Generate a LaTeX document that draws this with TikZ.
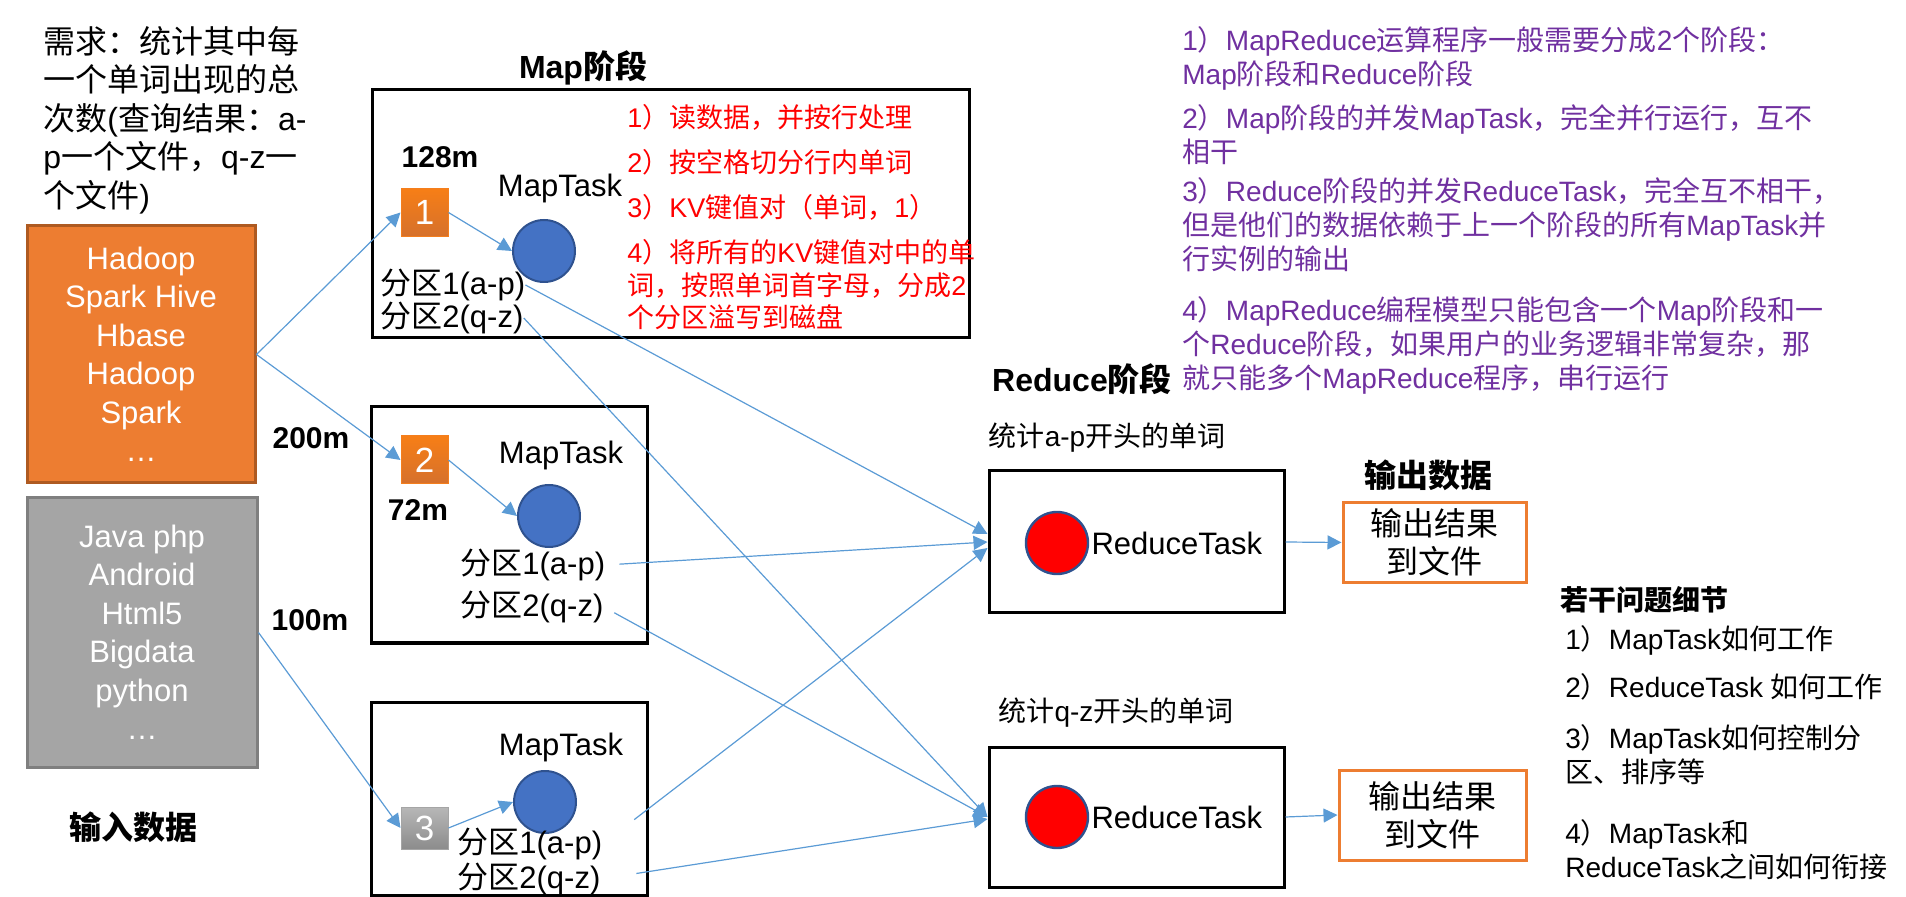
\documentclass[tikz,border=0pt]{standalone}
\usepackage{fontspec}
\setmainfont{Liberation Sans}
\newfontfamily\cjk{Noto Sans CJK SC}
\usetikzlibrary{arrows.meta,positioning}

% Chinese characters are set in the CJK family, the rest in Liberation Sans
\XeTeXinterchartokenstate=1
\newXeTeXintercharclass\hanclass
\makeatletter
\def\setcjkrange#1#2{\count@=#1\relax
  \loop\XeTeXcharclass\count@=\hanclass
  \ifnum\count@<#2\advance\count@\@ne\repeat}
\setcjkrange{"3000}{"303F}
\setcjkrange{"4E00}{"9FFF}
\setcjkrange{"FF00}{"FFEF}
\makeatother
\XeTeXinterchartoks 0 \hanclass = {\cjk}
\XeTeXinterchartoks 4095 \hanclass = {\cjk}
\XeTeXinterchartoks \hanclass 0 = {\rmfamily}
\XeTeXinterchartoks 4095 0 = {\rmfamily}

\definecolor{flowblue}{HTML}{5B9BD5}
\definecolor{inorange}{HTML}{ED7D31}
\definecolor{inorangedark}{HTML}{AE5A21}
\definecolor{ingray}{HTML}{A5A5A5}
\definecolor{ingraydark}{HTML}{7F7F7F}
\definecolor{taskblue}{HTML}{4472C4}
\definecolor{taskedge}{HTML}{2F528F}
\definecolor{notepurple}{HTML}{7030A0}

\begin{document}
\begin{tikzpicture}[x=0.5pt,y=-0.5pt,->,>={Triangle[length=7pt,width=7pt]}]
  \tikzstyle{every edge}=[draw=flowblue,line width=0.6pt]
  \tikzstyle{frame}=[rectangle,draw=black,line width=1.5pt]
  \tikzstyle{inbox}=[rectangle,line width=1.5pt,text=white,align=center,
                     font=\fontsize{15.5}{19.25}\selectfont]
  \tikzstyle{splitbox}=[rectangle,text=white,minimum width=23.5pt,line width=0.5pt,
                        font=\fontsize{17.5}{20}\selectfont]
  \tikzstyle{maptask}=[circle,fill=taskblue,draw=taskedge,line width=1pt,
                       minimum size=31pt,inner sep=0pt]
  \tikzstyle{redtask}=[circle,fill=red,draw=taskedge,line width=1.2pt,
                       minimum size=31pt,inner sep=0pt]
  \tikzstyle{outbox}=[rectangle,draw=inorange,line width=1.5pt,align=center,
                      font=\fontsize{16}{19}\selectfont]
  \tikzstyle{txt}=[inner sep=0pt,font=\fontsize{15.5}{19.25}\selectfont]
  \tikzstyle{title}=[inner sep=0pt,font=\fontsize{16}{19}\selectfont\bfseries]
  \tikzstyle{size}=[inner sep=0pt,font=\fontsize{15}{18}\selectfont\bfseries]
  \tikzstyle{small}=[inner sep=0pt,align=left,font=\fontsize{14}{17}\selectfont]
  \tikzstyle{step note}=[inner sep=0pt,align=left,text=red,
                         font=\fontsize{13.5}{16.25}\selectfont]

  \useasboundingbox (0,0) rectangle (1906,897);

  % input data
  \node[txt,align=left,anchor=west,font=\fontsize{16}{19.25}\selectfont] (need) at (43,120)
    {需求：统计其中每\\一个单词出现的总\\次数(查询结果：a-\\p一个文件，q-z一\\个文件)};
  \node[inbox,fill=inorange,draw=inorangedark,minimum width=114pt,minimum height=128.5pt]
    (hadoop) at (141,354.5) {Hadoop\\Spark Hive\\Hbase\\Hadoop\\Spark\\…};
  \node[inbox,fill=ingray,draw=ingraydark,minimum width=115pt,minimum height=134.5pt]
    (java) at (142,632.5) {Java php\\Android\\Html5\\Bigdata\\python\\…};
  \node[title] (input) at (133,827) {输入数据};

  % map stage
  \node[title] (maptitle) at (583,68) {Map阶段};
  \node[frame,minimum width=298.5pt,minimum height=124pt] (mapbox1) at (670.5,214) {};
  \node[frame,minimum width=138pt,minimum height=118pt] (mapbox2) at (509,525) {};
  \node[frame,minimum width=138pt,minimum height=96.5pt] (mapbox3) at (509,798.5) {};

  \node[size] (s128) at (440,157) {128m};
  \node[size] (s200) at (311,438) {200m};
  \node[size] (s72) at (418,510) {72m};
  \node[size] (s100) at (310,620) {100m};

  \node[splitbox,minimum height=24pt,top color=orange!55!inorange,bottom color=inorange!90!black,
        draw=orange!40!inorange] (sq1) at (424.5,212.5) {1};
  \node[splitbox,minimum height=24pt,top color=orange!55!inorange,bottom color=inorange!90!black,
        draw=orange!40!inorange] (sq2) at (424.5,460) {2};
  \node[splitbox,minimum height=21pt,top color=ingray!80!white,bottom color=ingray!85!black,
        draw=ingray] (sq3) at (424.5,828) {3};

  \node[maptask] (m1) at (544,251) {};
  \node[maptask] (m2) at (549,516) {};
  \node[maptask] (m3) at (545,802) {};
  \node[txt] (mt1) at (560,188) {MapTask};
  \node[txt] (mt2) at (561,455) {MapTask};
  \node[txt] (mt3) at (561,747) {MapTask};

  \node[txt,anchor=west] (p11) at (380,285) {分区1(a-p)};
  \node[txt,anchor=west] (p12) at (380,318) {分区2(q-z)};
  \node[txt,anchor=west] (p21) at (460,565) {分区1(a-p)};
  \node[txt,anchor=west] (p22) at (460,607) {分区2(q-z)};
  \node[txt,anchor=west] (p31) at (457,844) {分区1(a-p)};
  \node[txt,anchor=west] (p32) at (457,879) {分区2(q-z)};

  \node[step note,anchor=west] (read) at (627,117) {1）读数据，并按行处理};
  \node[step note,anchor=west] (cut) at (627,162) {2）按空格切分行内单词};
  \node[step note,anchor=west] (kv) at (627,207) {3）KV键值对（单词，1）};
  \node[step note,anchor=west] (spill) at (627,285)
    {4）将所有的KV键值对中的单\\词，按照单词首字母，分成2\\个分区溢写到磁盘};

  % reduce stage
  \node[title] (redtitle) at (1082,379) {Reduce阶段};
  \node[small] (ap) at (1107,438) {统计a-p开头的单词};
  \node[small] (qz) at (1116,713) {统计q-z开头的单词};
  \node[frame,minimum width=147.5pt,minimum height=71pt] (r1) at (1136.5,542) {};
  \node[frame,minimum width=147.5pt,minimum height=70pt] (r2) at (1136.5,817) {};
  \node[redtask] (rc1) at (1057,543) {};
  \node[redtask] (rc2) at (1057,817) {};
  \node[txt,right=1pt of rc1] (rt1) {ReduceTask};
  \node[txt,right=1pt of rc2] (rt2) {ReduceTask};

  % output data
  \node[title] (output) at (1428,475) {输出数据};
  \node[outbox,minimum width=91.5pt,minimum height=39.5pt] (o1) at (1434.5,542.5) {输出结果\\到文件};
  \node[outbox,minimum width=93.5pt,minimum height=45pt] (o2) at (1432.5,815) {输出结果\\到文件};

  % notes
  \node[small,text=notepurple,anchor=west] (n1) at (1182,58.5)
    {1）MapReduce运算程序一般需要分成2个阶段：\\Map阶段和Reduce阶段};
  \node[small,text=notepurple,anchor=west] (n2) at (1182,134.5)
    {2）Map阶段的并发MapTask，完全并行运行，互不\\相干};
  \node[small,text=notepurple,anchor=west] (n3) at (1182,225)
    {3）Reduce阶段的并发ReduceTask，完全互不相干，\\但是他们的数据依赖于上一个阶段的所有MapTask并\\行实例的输出};
  \node[small,text=notepurple,anchor=west] (n4) at (1182,345)
    {4）MapReduce编程模型只能包含一个Map阶段和一\\个Reduce阶段，如果用户的业务逻辑非常复杂，那\\就只能多个MapReduce程序，串行运行};

  \node[small,anchor=west,font=\fontsize{14}{17}\selectfont\bfseries] (q0) at (1560,600) {若干问题细节};
  \node[small,anchor=west] (q1) at (1565,640) {1）MapTask如何工作};
  \node[small,anchor=west] (q2) at (1565,687) {2）ReduceTask 如何工作};
  \node[small,anchor=west] (q3) at (1565,755) {3）MapTask如何控制分\\区、排序等};
  \node[small,anchor=west] (q4) at (1565,850) {4）MapTask和\\ReduceTask之间如何衔接};

  \path (hadoop.east) edge (sq1.west)
        (hadoop.east) edge (sq2.west)
        (java.east) edge (sq3.west)
        (sq1.east) edge (m1.west)
        (sq2.east) edge (m2.west)
        (sq3.east) edge (m3.west)
        (p11.east) edge ([yshift=4pt]r1.west)
        (p12.east) edge (r2.west)
        (p21.east) edge [shorten <=7pt] (r1.west)
        (p22.east) edge [shorten <=6pt] (r2.west)
        (p31.east) edge [shorten <=20pt] ([yshift=-3pt]r1.west)
        (p32.east) edge [shorten <=18pt] ([yshift=-1pt]r2.west)
        (r1.east) edge (o1.west)
        (r2.east) edge (o2.west);
\end{tikzpicture}
\end{document}
